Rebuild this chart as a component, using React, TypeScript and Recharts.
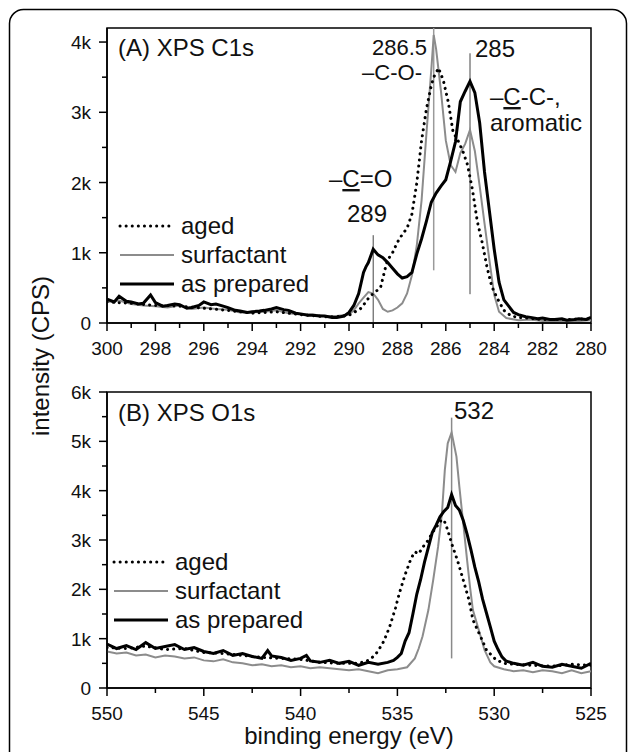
import React from "react";
import { LineChart, Line, XAxis, YAxis, ReferenceLine, ReferenceArea } from "recharts";

const FONT = "'Liberation Sans', Arial, sans-serif";

// tick positions (binding energy in eV, intensity in k CPS)
const c1sMajorX = [300, 298, 296, 294, 292, 290, 288, 286, 284, 282, 280];
const c1sMinorX = [299, 297, 295, 293, 291, 289, 287, 285, 283, 281];
const c1sMajorY = [0, 1, 2, 3, 4];
const c1sMinorY = [0.5, 1.5, 2.5, 3.5];

const o1sMajorX = [550, 545, 540, 535, 530, 525];
const o1sMinorX = [547.5, 542.5, 537.5, 532.5, 527.5];
const o1sMajorY = [0, 1, 2, 3, 4, 5, 6];
const o1sMinorY = [0.5, 1.5, 2.5, 3.5, 4.5, 5.5];

const legendLabels = ["aged", "surfactant", "as prepared"];

// (A) C1s  [eV, kCPS]
const c1sAged = [
  [300, 0.3], [299, 0.28], [298, 0.25], [297, 0.24], [296, 0.21], [295, 0.18], [294, 0.14],
  [293, 0.16], [292, 0.12], [291, 0.09], [290.5, 0.09], [290, 0.11], [289.5, 0.21], [289.2, 0.35],
  [289, 0.42], [288.7, 0.5], [288.5, 0.78], [288.4, 0.9], [288.2, 1.0], [288, 1.15], [287.8, 1.26],
  [287.6, 1.35], [287.4, 1.55], [287.2, 1.99], [287, 2.6], [286.8, 3.05], [286.6, 3.38],
  [286.5, 3.5], [286.3, 3.63], [286.1, 3.45], [285.9, 3.15], [285.7, 2.72], [285.5, 2.6],
  [285.3, 2.45], [285.1, 2.25], [284.9, 1.9], [284.7, 1.45], [284.5, 1.15], [284.3, 0.8],
  [284.1, 0.52], [283.9, 0.37], [283.6, 0.18], [283.3, 0.1], [283, 0.08], [282, 0.05],
  [281, 0.05], [280, 0.06],
];
const c1sSurfactant = [
  [300, 0.3], [299.5, 0.32], [299, 0.27], [298.5, 0.25], [298, 0.24], [297.5, 0.22], [297, 0.25],
  [296.5, 0.2], [296, 0.22], [295.5, 0.2], [295, 0.19], [294.5, 0.15], [294, 0.15], [293.5, 0.16],
  [293, 0.18], [292.5, 0.14], [292, 0.12], [291.5, 0.12], [291, 0.1], [290.5, 0.1], [290, 0.12],
  [289.8, 0.18], [289.6, 0.28], [289.4, 0.36], [289.2, 0.44], [289, 0.42], [288.8, 0.33],
  [288.6, 0.2], [288.4, 0.16], [288.2, 0.18], [288, 0.22], [287.8, 0.28], [287.6, 0.42],
  [287.4, 0.68], [287.2, 1.1], [287, 1.75], [286.8, 2.7], [286.6, 3.6], [286.5, 4.1],
  [286.4, 3.9], [286.2, 3.3], [286, 2.6], [285.8, 2.25], [285.6, 2.15], [285.4, 2.42],
  [285.2, 2.55], [285, 2.75], [284.8, 2.45], [284.6, 1.95], [284.4, 1.42], [284.2, 0.9],
  [284, 0.4], [283.8, 0.16], [283.5, 0.07], [283, 0.04], [282.5, 0.05], [282, 0.03],
  [281.5, 0.03], [281, 0.02], [280.5, 0.03], [280, 0.04],
];
const c1sPrepared = [
  [300, 0.34], [299.7, 0.3], [299.5, 0.38], [299.2, 0.31], [299, 0.3], [298.7, 0.27], [298.5, 0.28],
  [298.2, 0.4], [298, 0.29], [297.7, 0.24], [297.5, 0.25], [297.2, 0.27], [297, 0.26], [296.7, 0.21],
  [296.5, 0.22], [296.2, 0.25], [296, 0.3], [295.7, 0.26], [295.5, 0.27], [295.2, 0.24], [295, 0.22],
  [294.7, 0.18], [294.5, 0.17], [294.2, 0.15], [294, 0.16], [293.7, 0.17], [293.5, 0.18],
  [293.2, 0.2], [293, 0.22], [292.7, 0.19], [292.5, 0.18], [292.2, 0.14], [292, 0.13],
  [291.7, 0.11], [291.5, 0.11], [291.2, 0.1], [291, 0.1], [290.7, 0.08], [290.5, 0.08],
  [290.2, 0.1], [290, 0.15], [289.8, 0.25], [289.6, 0.42], [289.4, 0.72], [289.3, 0.8],
  [289.2, 0.86], [289, 1.05], [288.8, 0.97], [288.6, 0.93], [288.4, 0.86], [288.2, 0.78],
  [288, 0.7], [287.8, 0.64], [287.6, 0.66], [287.4, 0.72], [287.2, 0.98], [287, 1.2],
  [286.8, 1.45], [286.6, 1.72], [286.4, 1.85], [286.2, 1.95], [286, 2.04], [285.8, 2.3],
  [285.6, 2.58], [285.4, 3.15], [285.2, 3.3], [285, 3.44], [284.8, 3.28], [284.6, 2.85],
  [284.4, 2.15], [284.2, 1.6], [284, 1.05], [283.8, 0.58], [283.6, 0.33], [283.4, 0.24],
  [283.2, 0.15], [283, 0.12], [282.7, 0.09], [282.5, 0.08], [282.2, 0.06], [282, 0.07],
  [281.7, 0.05], [281.5, 0.05], [281.2, 0.06], [281, 0.04], [280.7, 0.05], [280.5, 0.06],
  [280.2, 0.05], [280, 0.08],
];

// (B) O1s  [eV, kCPS]
const o1sAged = [
  [550, 0.82], [549, 0.8], [548, 0.85], [547, 0.78], [546, 0.8], [545, 0.72], [544, 0.7],
  [543, 0.66], [542, 0.62], [541, 0.6], [540, 0.58], [539, 0.52], [538, 0.5], [537, 0.5],
  [536.5, 0.56], [536.2, 0.65], [536, 0.75], [535.7, 0.95], [535.4, 1.24], [535.1, 1.62],
  [534.9, 1.92], [534.6, 2.3], [534.3, 2.62], [534.1, 2.76], [533.9, 2.72], [533.7, 2.85],
  [533.4, 3.0], [533.2, 3.15], [533, 3.25], [532.8, 3.38], [532.6, 3.41], [532.4, 3.2],
  [532.2, 2.93], [531.9, 2.59], [531.6, 2.19], [531.3, 1.78], [531.1, 1.38], [530.7, 1.04],
  [530.4, 0.77], [529.9, 0.57], [529.5, 0.5], [529, 0.48], [528, 0.46], [527, 0.44],
  [526, 0.48], [525, 0.46],
];
const o1sSurfactant = [
  [550, 0.74], [549.5, 0.7], [549, 0.72], [548.5, 0.66], [548, 0.68], [547.5, 0.62], [547, 0.66],
  [546.5, 0.64], [546, 0.6], [545.5, 0.62], [545, 0.56], [544.5, 0.54], [544, 0.58], [543.5, 0.52],
  [543, 0.5], [542.5, 0.46], [542, 0.48], [541.5, 0.44], [541, 0.46], [540.5, 0.42], [540, 0.44],
  [539.5, 0.4], [539, 0.42], [538.5, 0.4], [538, 0.38], [537.5, 0.36], [537, 0.38], [536.5, 0.34],
  [536, 0.3], [535.5, 0.36], [535, 0.38], [534.5, 0.42], [534.1, 0.6], [533.9, 0.8],
  [533.7, 1.05], [533.4, 1.58], [533.15, 2.19], [532.9, 2.86], [532.7, 3.54], [532.55, 4.42],
  [532.4, 4.96], [532.2, 5.18], [531.95, 4.69], [531.8, 4.08], [531.6, 3.34], [531.4, 2.59],
  [531.25, 2.05], [531.1, 1.58], [530.8, 1.18], [530.5, 0.77], [530.2, 0.52], [530, 0.44],
  [529.5, 0.38], [529, 0.34], [528.5, 0.36], [528, 0.32], [527.5, 0.36], [527, 0.34],
  [526.5, 0.3], [526, 0.36], [525.5, 0.3], [525, 0.34],
];
const o1sPrepared = [
  [550, 0.89], [549.5, 0.8], [549, 0.86], [548.5, 0.78], [548, 0.92], [547.5, 0.8], [547, 0.84],
  [546.5, 0.88], [546, 0.78], [545.5, 0.82], [545, 0.74], [544.5, 0.7], [544, 0.76], [543.5, 0.66],
  [543, 0.7], [542.5, 0.64], [542, 0.6], [541.7, 0.76], [541.5, 0.65], [541, 0.62], [540.5, 0.56],
  [540, 0.6], [539.7, 0.66], [539.5, 0.55], [539, 0.52], [538.5, 0.56], [538, 0.5], [537.5, 0.54],
  [537, 0.46], [536.5, 0.52], [536, 0.48], [535.5, 0.52], [535.2, 0.56], [535, 0.62],
  [534.8, 0.7], [534.6, 0.95], [534.4, 1.12], [534.2, 1.5], [534, 1.9], [533.8, 2.2],
  [533.6, 2.55], [533.4, 2.85], [533.2, 3.15], [533, 3.3], [532.8, 3.47], [532.6, 3.58],
  [532.4, 3.66], [532.2, 3.92], [532, 3.7], [531.8, 3.61], [531.6, 3.4], [531.4, 3.12],
  [531.2, 2.8], [531, 2.45], [530.8, 2.15], [530.6, 1.8], [530.4, 1.52], [530.2, 1.24],
  [530, 0.95], [529.8, 0.78], [529.6, 0.63], [529.4, 0.55], [529, 0.5], [528.5, 0.46],
  [528, 0.52], [527.5, 0.44], [527, 0.42], [526.5, 0.48], [526, 0.44], [525.5, 0.4], [525, 0.5],
];

const toRows = (pts: number[][]) => pts.map(([e, v]) => ({ e, v }));

const lineStyles = [
  { stroke: "#000", strokeWidth: 3, strokeDasharray: "0.1 6", strokeLinecap: "round" as const },
  { stroke: "#8c8c8c", strokeWidth: 2 },
  { stroke: "#000", strokeWidth: 3 },
];

type Mark = { x: number; y1: number; y2: number; color: string; width: number };

type PanelProps = {
  height: number;
  margin: { top: number; right: number; bottom: number; left: number };
  xDomain: [number, number];
  majorX: number[];
  minorX: number[];
  yMax: number;
  majorY: number[];
  minorY: number[];
  series: number[][][];
  marks: Mark[];
};

const Panel = ({ height, margin, xDomain, majorX, minorX, yMax, majorY, minorY, series, marks }: PanelProps) => {
  const xTick = (p: any) => {
    const major = majorX.includes(p.payload.value);
    return (
      <g>
        <line x1={p.x} x2={p.x} y1={p.y} y2={p.y + (major ? 8 : 5)} stroke="#000" strokeWidth={1.5} />
        {major && (
          <text x={p.x} y={p.y + 32} textAnchor="middle" fontSize={19} fill="#111" fontFamily={FONT}>
            {p.payload.value}
          </text>
        )}
      </g>
    );
  };
  const yTick = (p: any) => {
    const v = p.payload.value;
    const major = majorY.includes(v);
    return (
      <g>
        <line x1={p.x - (major ? 8 : 5)} x2={p.x} y1={p.y} y2={p.y} stroke="#000" strokeWidth={1.5} />
        {major && (
          <text x={p.x - 16} y={p.y + 7} textAnchor="end" fontSize={19} fill="#111" fontFamily={FONT}>
            {v === 0 ? "0" : `${v}k`}
          </text>
        )}
      </g>
    );
  };
  return (
    <LineChart width={629} height={height} margin={margin}>
      <XAxis
        dataKey="e"
        type="number"
        domain={xDomain}
        reversed
        allowDataOverflow
        ticks={[...majorX, ...minorX].sort((a, b) => a - b)}
        interval={0}
        tickSize={0}
        tickMargin={0}
        tick={xTick}
        height={40}
        axisLine={{ stroke: "#000", strokeWidth: 1.5 }}
      />
      <YAxis
        type="number"
        domain={[0, yMax]}
        allowDataOverflow
        ticks={[...majorY, ...minorY].sort((a, b) => a - b)}
        interval={0}
        tickSize={0}
        tickMargin={0}
        tick={yTick}
        width={60}
        axisLine={{ stroke: "#000", strokeWidth: 1.5 }}
      />
      <ReferenceArea
        x1={xDomain[0]}
        x2={xDomain[1]}
        y1={0}
        y2={yMax}
        fill="none"
        stroke="#000"
        strokeWidth={1.5}
        fillOpacity={0}
      />
      {marks.map((m, i) => (
        <ReferenceLine
          key={i}
          segment={[{ x: m.x, y: m.y1 }, { x: m.x, y: m.y2 }]}
          stroke={m.color}
          strokeWidth={m.width}
          ifOverflow="visible"
        />
      ))}
      {[1, 0, 2].map((i) => (
        <Line
          key={i}
          data={toRows(series[i])}
          dataKey="v"
          type="linear"
          dot={false}
          activeDot={false}
          isAnimationActive={false}
          {...lineStyles[i]}
        />
      ))}
    </LineChart>
  );
};

const Legend = ({ x, y, textX }: { x: number; y: number; textX: number }) => (
  <g>
    {legendLabels.map((label, i) => (
      <g key={label}>
        <line x1={x} x2={x + 54} y1={y + i * 29} y2={y + i * 29} {...lineStyles[i]} />
        <text x={textX} y={y + i * 29 + 8} fontSize={24} fill="#111" fontFamily={FONT}>
          {label}
        </text>
      </g>
    ))}
  </g>
);

const App = () => {
  const txt = { fontSize: 24, fill: "#111", fontFamily: FONT };
  return (
    <div
      style={{
        position: "fixed",
        left: 0,
        top: 0,
        width: 629,
        height: 752,
        overflow: "hidden",
        background: "#fff",
      }}
    >
      <div style={{ position: "absolute", left: 0, top: 0 }}>
        <Panel
          height={376}
          margin={{ top: 28, right: 38, bottom: 13, left: 47 }}
          xDomain={[280, 300]}
          majorX={c1sMajorX}
          minorX={c1sMinorX}
          yMax={4.2}
          majorY={c1sMajorY}
          minorY={c1sMinorY}
          series={[c1sAged, c1sSurfactant, c1sPrepared]}
          marks={[
            { x: 286.5, y1: 0.75, y2: 4.2, color: "#9a9a9a", width: 1.5 },
            { x: 285, y1: 0.41, y2: 3.84, color: "#444", width: 1 },
            { x: 289, y1: 0, y2: 1.25, color: "#444", width: 1 },
          ]}
        />
      </div>
      <div style={{ position: "absolute", left: 0, top: 376 }}>
        <Panel
          height={376}
          margin={{ top: 16, right: 38, bottom: 24, left: 47 }}
          xDomain={[525, 550]}
          majorX={o1sMajorX}
          minorX={o1sMinorX}
          yMax={6}
          majorY={o1sMajorY}
          minorY={o1sMinorY}
          series={[o1sAged, o1sSurfactant, o1sPrepared]}
          marks={[{ x: 532.2, y1: 0.6, y2: 5.48, color: "#8a8a8a", width: 1.5 }]}
        />
      </div>
      <svg
        width={629}
        height={752}
        style={{ position: "absolute", left: 0, top: 0, pointerEvents: "none" }}
      >
        <rect x={9.5} y={9.5} width={617} height={800} rx={14} fill="none" stroke="#000" strokeWidth={1.5} />
        <text x={49} y={356} transform="rotate(-90 49 356)" textAnchor="middle" {...txt}>
          intensity (CPS)
        </text>
        <text x={349} y={744} textAnchor="middle" {...txt}>
          binding energy (eV)
        </text>

        <text x={118} y={56} {...txt}>(A) XPS C1s</text>
        <text x={427} y={55} textAnchor="end" {...txt} fontSize={22}>286.5</text>
        <text x={422} y={80} textAnchor="end" {...txt} fontSize={22}>–C-O-</text>
        <text x={475} y={57} {...txt}>285</text>
        <text x={490} y={105} {...txt}>
          –<tspan style={{ textDecoration: "underline" }}>C</tspan>-C-,
        </text>
        <text x={490} y={131} {...txt}>aromatic</text>
        <text x={329} y={187} {...txt}>
          –<tspan style={{ textDecoration: "underline" }}>C</tspan>=O
        </text>
        <text x={367} y={222} textAnchor="middle" {...txt}>289</text>
        <Legend x={120} y={226} textX={181} />

        <text x={118} y={421} {...txt}>(B) XPS O1s</text>
        <text x={454} y={419} {...txt}>532</text>
        <Legend x={114} y={562} textX={175} />
      </svg>
    </div>
  );
};

export default App;
